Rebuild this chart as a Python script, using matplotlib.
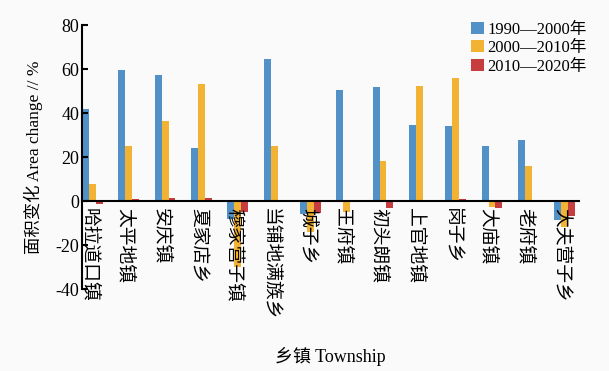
import numpy as np
import matplotlib.pyplot as plt

plt.rcParams['font.family'] = ['Liberation Serif', 'Noto Sans CJK SC']
plt.rcParams['axes.unicode_minus'] = False

# 各乡镇面积变化 (%)
towns = ['哈拉道口镇', '太平地镇', '安庆镇', '夏家店乡', '穆家营子镇', '当铺地满族乡', '城子乡',
         '王府镇', '初头朗镇', '上官地镇', '岗子乡', '大庙镇', '老府镇', '大夫营子乡']
p1990_2000 = [42, 59.5, 57.4, 24, -8, 64.4, -6, 50.4, 52, 34.4, 34.3, 25.1, 27.9, -8.5]
p2000_2010 = [7.6, 25, 36.4, 53.2, -30, 25, -14, -5, 18.2, 52.1, 55.7, -2.5, 16, -12]
p2010_2020 = [-1.5, 1, 1.5, 1.5, -5, 0.5, -5.5, -0.5, -3, -0.3, 1, -3, 0.5, -7]
periods = ['1990—2000年', '2000—2010年', '2010—2020年']
colors = ['#5191c8', '#f2b234', '#c63c3f']

fig = plt.figure(figsize=(6.09, 3.71), dpi=100, facecolor='#fafafa')
ax = fig.add_axes([0.1346, 0.221, 0.8164, 0.7116])
ax.set_facecolor('#fafafa')

x = np.arange(len(towns))
w = 0.19
for i, (vals, lab, c) in enumerate(zip([p1990_2000, p2000_2010, p2010_2020], periods, colors)):
    ax.bar(x + (i - 1) * w, vals, width=w, color=c, label=lab)

ax.set_xlim(-0.29, 13.4)
ax.set_ylim(-40, 80)
ax.set_yticks([-40, -20, 0, 20, 40, 60, 80])
ax.tick_params(axis='y', direction='in', length=4, width=1.5, labelsize=13, pad=2)

ax.spines['top'].set_visible(False)
ax.spines['right'].set_visible(False)
ax.spines['left'].set_linewidth(1.5)
ax.spines['bottom'].set_position(('data', 0))
ax.spines['bottom'].set_linewidth(1.5)

# 乡镇名竖排，从零线下方开始（字形略偏右，刻度位置左移一点）
ax.set_xticks(x - 0.09)
ax.set_xticklabels(towns, rotation=-90, rotation_mode='anchor', fontsize=13.5,
                   ha='left', va='center', family=['Noto Sans CJK SC'])
ax.tick_params(axis='x', length=0, pad=5)

ax.set_ylabel('面积变化 Area change // %', fontsize=12.5, labelpad=9)
fig.text(0.542, 0.038, '乡镇 Township', ha='center', va='center', fontsize=13)

ax.legend(loc='upper right', bbox_to_anchor=(1.045, 1.07), frameon=False, fontsize=12,
          handlelength=0.75, handleheight=0.75, handletextpad=0.2, labelspacing=0.15)

fig.savefig('out.png', dpi=100, facecolor=fig.get_facecolor())
